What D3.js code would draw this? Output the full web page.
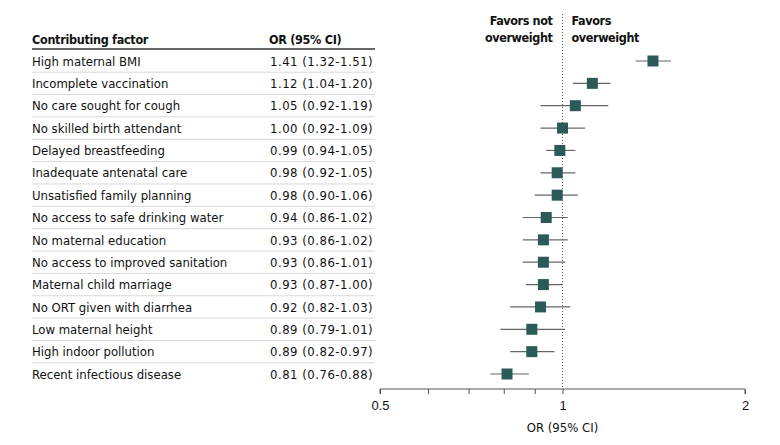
<!DOCTYPE html>
<html><head><meta charset="utf-8">
<script src="https://cdn.jsdelivr.net/npm/d3@7"></script>
<style>
body{margin:0;background:#fff;}
svg{display:block;font-family:"DejaVu Sans Condensed","DejaVu Sans",sans-serif;font-stretch:condensed;}
</style></head>
<body><svg id="chart" width="780" height="445"></svg>
<script>
const factors = ["High maternal BMI","Incomplete vaccination","No care sought for cough","No skilled birth attendant","Delayed breastfeeding","Inadequate antenatal care","Unsatisfied family planning","No access to safe drinking water","No maternal education","No access to improved sanitation","Maternal child marriage","No ORT given with diarrhea","Low maternal height","High indoor pollution","Recent infectious disease"];
const orValues = [1.41,1.12,1.05,1.00,0.99,0.98,0.98,0.94,0.93,0.93,0.93,0.92,0.89,0.89,0.81];
const ciLow = [1.32,1.04,0.92,0.92,0.94,0.92,0.90,0.86,0.86,0.86,0.87,0.82,0.79,0.82,0.76];
const ciHigh = [1.51,1.20,1.19,1.09,1.05,1.05,1.06,1.02,1.02,1.01,1.00,1.03,1.01,0.97,0.88];
const orLabels = ["1.41 (1.32-1.51)","1.12 (1.04-1.20)","1.05 (0.92-1.19)","1.00 (0.92-1.09)","0.99 (0.94-1.05)","0.98 (0.92-1.05)","0.98 (0.90-1.06)","0.94 (0.86-1.02)","0.93 (0.86-1.02)","0.93 (0.86-1.01)","0.93 (0.87-1.00)","0.92 (0.82-1.03)","0.89 (0.79-1.01)","0.89 (0.82-0.97)","0.81 (0.76-0.88)"];
const tickValues = [0.5,0.6,0.7,0.8,0.9,1,2];
const tickLabels = ["0.5","","","","","1","2"];

const svg = d3.select("#chart");
const x = d3.scaleLog().domain([0.5,2]).range([380,745]);
const y = d3.scalePoint().domain(factors).range([61,374]);
const step = y.step();
const teal = "#2a5b57";
const fontSize = 13;

function bold(sel){ return sel.attr("font-weight","bold").attr("font-size",12.5).attr("letter-spacing","-0.3px").attr("fill","#111"); }

// Table header
bold(svg.append("text").attr("x",32).attr("y",44)).text("Contributing factor");
bold(svg.append("text").attr("x",269).attr("y",44)).text("OR (95% CI)");
svg.append("line").attr("x1",32).attr("x2",375).attr("y1",49).attr("y2",49).attr("stroke","#333").attr("stroke-width",1.5);

// separators
svg.selectAll("line.sep").data(factors.slice(0,-1)).join("line").attr("class","sep")
  .attr("x1",32).attr("x2",375)
  .attr("y1",d=>y(d)+step/2).attr("y2",d=>y(d)+step/2)
  .attr("stroke","#d8d8d8").attr("stroke-width",1);

// row labels
svg.selectAll("text.lab").data(factors).join("text").attr("class","lab")
  .attr("x",32).attr("y",d=>y(d)).attr("dy","0.36em").attr("font-size",fontSize).attr("fill","#111").text(d=>d);
svg.selectAll("text.orl").data(orLabels).join("text").attr("class","orl")
  .attr("x",270).attr("y",(d,i)=>y(factors[i])).attr("dy","0.36em").attr("font-size",fontSize)
  .attr("letter-spacing","0.5px").attr("fill","#111").text(d=>d);

// reference line
svg.append("line").attr("x1",x(1)).attr("x2",x(1)).attr("y1",14).attr("y2",389)
  .attr("stroke","#555").attr("stroke-width",1).attr("stroke-dasharray","1,2");

// favors labels
const fav = svg.append("g").attr("font-weight","bold").attr("font-size",12.5).attr("letter-spacing","-0.4px").attr("fill","#111");
fav.append("text").attr("x",x(1)-10).attr("y",25).attr("text-anchor","end").text("Favors not");
fav.append("text").attr("x",x(1)-10).attr("y",42).attr("text-anchor","end").text("overweight");
fav.append("text").attr("x",x(1)+9).attr("y",25).text("Favors");
fav.append("text").attr("x",x(1)+9).attr("y",42).text("overweight");

// CIs
svg.selectAll("line.ci").data(factors).join("line").attr("class","ci")
  .attr("x1",(d,i)=>x(ciLow[i])).attr("x2",(d,i)=>x(ciHigh[i]))
  .attr("y1",d=>y(d)).attr("y2",d=>y(d))
  .attr("stroke","#666").attr("stroke-width",1.2);
const sq = 11;
svg.selectAll("rect.pt").data(factors).join("rect").attr("class","pt")
  .attr("x",(d,i)=>x(orValues[i])-sq/2).attr("y",d=>y(d)-sq/2)
  .attr("width",sq).attr("height",sq).attr("fill",teal);

// axis
const axis = d3.axisBottom(x).tickValues(tickValues).tickFormat((d,i)=>tickLabels[i]).tickSize(5).tickPadding(7);
const ag = svg.append("g").attr("transform","translate(0,389)").call(axis);
ag.select(".domain").attr("stroke","#555").attr("d","M380,5V0H745V5");
ag.selectAll(".tick line").attr("stroke","#555");
ag.selectAll(".tick text").attr("font-size",13).attr("fill","#111").attr("font-family",null);
svg.append("text").attr("x",x(1)).attr("y",432).attr("text-anchor","middle").attr("font-size",13).attr("fill","#111").text("OR (95% CI)");
</script></body></html>
